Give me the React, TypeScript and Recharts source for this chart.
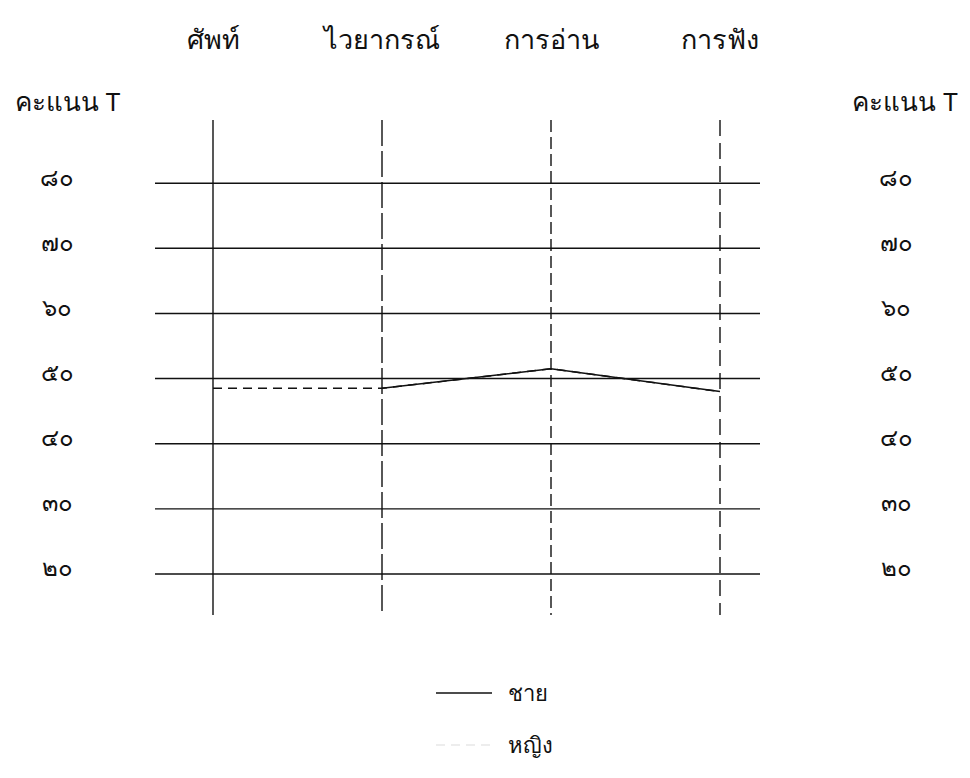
import React from 'react'
import { LineChart, Line, XAxis, YAxis, ReferenceLine } from 'recharts'

const categories = ['ศัพท์', 'ไวยากรณ์', 'การอ่าน', 'การฟัง']
const maleScores = [null, 48.5, 51.5, 48]
const femaleScores = [48.5, 48.5, 51.5, 48]
const yTicks = [20, 30, 40, 50, 60, 70, 80]
const yTickLabels = ['๒๐', '๓๐', '๔๐', '๕๐', '๖๐', '๗๐', '๘๐']
const axisTitle = 'คะแนน T'

const data = categories.map((name, i) => ({
  name,
  male: maleScores[i],
  female: femaleScores[i],
}))

const series = [
  { key: 'male', label: 'ชาย', dash: undefined, axis: 'l' },
  { key: 'female', label: 'หญิง', dash: '9 6', axis: 'r' },
]

// scanned-typewriter look: the vertical guides are broken in different ways
const verticalDash = [undefined, '26 5', '12 5', '16 7']

const INK = '#111'
const FONT = '"Noto Sans", "DejaVu Sans", sans-serif'
const DOMAIN: [number, number] = [13.7, 89.7]

const tickLabel = (v: number) => yTickLabels[yTicks.indexOf(v)] ?? String(v)

function LeftTick({ x, y, payload }: any) {
  return (
    <text x={x - 90} y={y - 4} textAnchor="middle" dominantBaseline="middle"
      fontSize={24} fill={INK} fontFamily={FONT}>
      {tickLabel(payload.value)}
    </text>
  )
}

function RightTick({ x, y, payload }: any) {
  return (
    <text x={x + 128} y={y - 4} textAnchor="middle" dominantBaseline="middle"
      fontSize={24} fill={INK} fontFamily={FONT}>
      {tickLabel(payload.value)}
    </text>
  )
}

function TopTick({ x, y, payload }: any) {
  return (
    <text x={x} y={y - 63} textAnchor="middle" fontSize={27} fill={INK} fontFamily={FONT}>
      {payload.value}
    </text>
  )
}

const header = (shift: number) => ({ viewBox }: any) => (
  <text x={viewBox.x + viewBox.width / 2 + shift} y={viewBox.y - 9}
    textAnchor="middle" fontSize={26} fill={INK} fontFamily={FONT}>
    {axisTitle}
  </text>
)

export default function App() {
  return (
    <div style={{ position: 'absolute', left: 0, top: 0, width: 970, height: 778, background: '#fff' }}>
      <LineChart width={970} height={778} data={data}
        margin={{ top: 0, right: 0, bottom: 163, left: 0 }}>
        <XAxis dataKey="name" orientation="top" height={120}
          axisLine={false} tickLine={false} tick={<TopTick />}
          padding={{ left: 58, right: 40 }} interval={0} />
        <YAxis yAxisId="l" domain={DOMAIN} ticks={yTicks} width={155}
          axisLine={false} tickLine={false} tick={<LeftTick />} allowDataOverflow
          label={{ value: axisTitle, content: header(-10) }} />
        <YAxis yAxisId="r" orientation="right" domain={DOMAIN} ticks={yTicks} width={210}
          axisLine={false} tickLine={false} tick={<RightTick />} allowDataOverflow
          label={{ value: axisTitle, content: header(40) }} />

        {yTicks.map((t) => (
          <ReferenceLine key={t} yAxisId="l" y={t} stroke={INK} strokeWidth={1.4} />
        ))}
        {categories.map((c, i) => (
          <ReferenceLine key={c} yAxisId="l" x={c} stroke={INK} strokeWidth={1.4}
            strokeDasharray={verticalDash[i]} />
        ))}

        {[...series].reverse().map((s) => (
          <Line key={s.key} yAxisId={s.axis} dataKey={s.key} stroke={INK} strokeWidth={1.5}
            strokeDasharray={s.dash} dot={false} connectNulls={false}
            isAnimationActive={false} />
        ))}
      </LineChart>

      <div style={{ position: 'absolute', left: 436, top: 676, fontFamily: FONT, fontSize: 22, color: INK }}>
        {series.map((s, i) => (
          <div key={s.key} style={{ display: 'flex', alignItems: 'center', height: 34, marginBottom: i === 0 ? 18 : 0 }}>
            <svg width={56} height={10} style={{ marginRight: 16 }}>
              <line x1={0} y1={5} x2={56} y2={5} stroke={s.dash ? '#e8e8e8' : INK}
                strokeWidth={1.5} strokeDasharray={s.dash} />
            </svg>
            <span>{s.label}</span>
          </div>
        ))}
      </div>
    </div>
  )
}
